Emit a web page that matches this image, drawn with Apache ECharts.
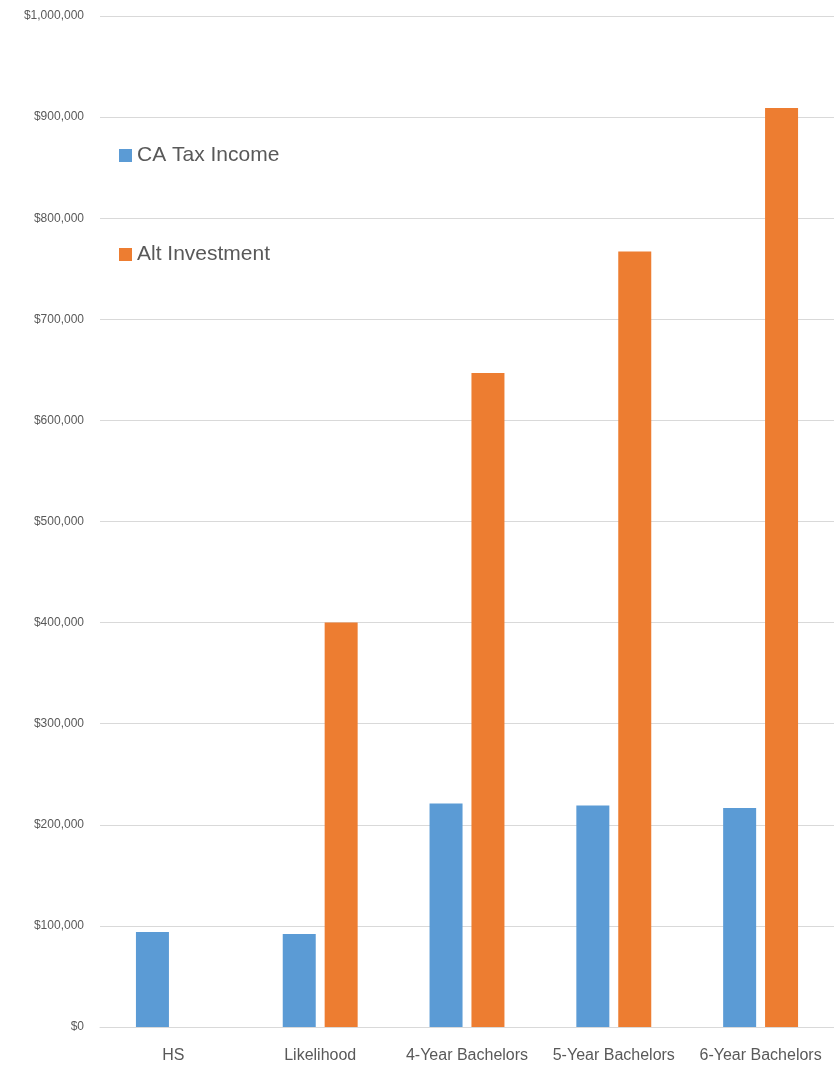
<!DOCTYPE html>
<html><head><meta charset="utf-8">
<script src="https://cdn.jsdelivr.net/npm/echarts@6/dist/echarts.min.js"></script>
<style>html,body{margin:0;padding:0;background:#fff}#c{width:834px;height:1069px}</style>
</head><body><div id="c"></div>
<script>
const categories = ['HS', 'Likelihood', '4-Year Bachelors', '5-Year Bachelors', '6-Year Bachelors'];
const caTaxIncome = [94000, 92000, 221000, 219000, 216500];
const altInvestment = [0, 400000, 647000, 767000, 909000];
const yTicks = { min: 0, max: 1000000, interval: 100000 };

const font = '"Liberation Sans", Arial, sans-serif';
const chart = echarts.init(document.getElementById('c'), null, {renderer: 'canvas'});
chart.setOption({
  animation: false,
  textStyle: {fontFamily: font},
  grid: {left: 100, right: 0, top: 16, bottom: 42, containLabel: false},
  legend: {
    orient: 'vertical', left: 114, top: 140, itemGap: 78, itemWidth: 13, itemHeight: 13, icon: 'rect',
    textStyle: {fontSize: 21, color: '#595959', fontFamily: font},
    data: ['CA Tax Income', 'Alt Investment']
  },
  xAxis: {
    type: 'category', data: categories,
    axisLine: {lineStyle: {color: '#D9D9D9', width: 1}},
    axisTick: {show: false},
    axisLabel: {fontSize: 16, color: '#595959', margin: 21, fontFamily: font, interval: 0, hideOverlap: false}
  },
  yAxis: {
    type: 'value', min: yTicks.min, max: yTicks.max, interval: yTicks.interval,
    axisLine: {show: false}, axisTick: {show: false},
    splitLine: {lineStyle: {color: '#D9D9D9', width: 1}},
    axisLabel: {
      fontSize: 12, color: '#595959', margin: 16, fontFamily: font,
      formatter: v => '$' + v.toLocaleString('en-US')
    }
  },
  series: [
    {name: 'CA Tax Income', type: 'bar', data: caTaxIncome, barWidth: 33, barGap: '27%',
     itemStyle: {color: '#5B9BD5'}},
    {name: 'Alt Investment', type: 'bar', data: altInvestment, barWidth: 33,
     itemStyle: {color: '#ED7D31'}}
  ]
});
</script></body></html>
